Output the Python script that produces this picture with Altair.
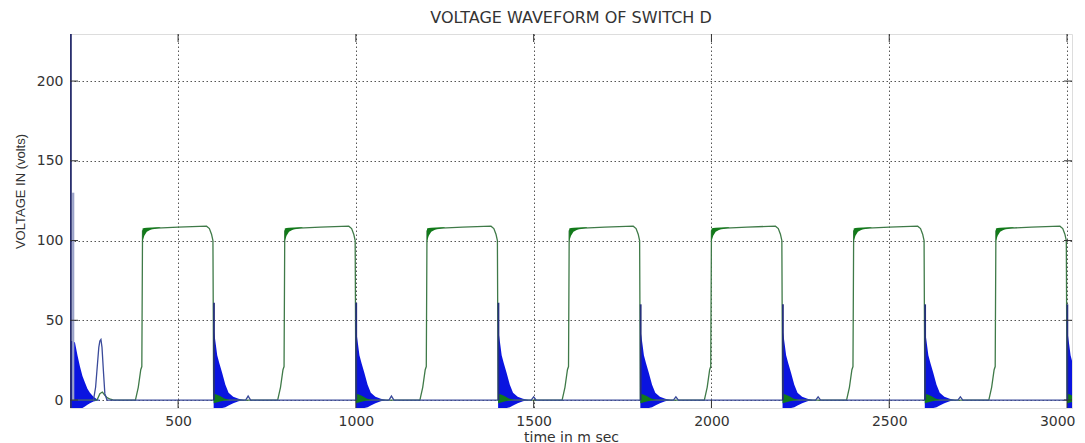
import altair as alt
import pandas as pd

TITLE = "VOLTAGE WAVEFORM OF SWITCH D"
X_TITLE = "time in m sec"
Y_TITLE = "VOLTAGE IN (volts)"

# axis ticks / limits
x_ticks = [500, 1000, 1500, 2000, 2500, 3000]
y_ticks = [0, 50, 100, 150, 200]
x_domain = [196, 3014]
y_domain = [-5, 229.5]

# switching events
rise_times = [380, 780, 1180, 1580, 1980, 2380, 2780]
fall_times = [600, 1000, 1400, 1800, 2200, 2600, 3000]
spike_peaks = [61, 61, 61, 60, 60, 60, 60]

# green (switch voltage) one-period shape, offsets from rise time
g_off = [0, 8, 15, 18, 20, 30, 60, 120, 180, 200, 208, 214, 218, 220]
g_val = [0, 8, 19, 21, 106, 107, 107.8, 108.4, 108.9, 109, 107.5, 104, 100, 0]

# green start bump
gs_t = [196, 272, 280, 287, 294, 300, 310, 318]
gs_v = [0, 0, 4, 5, 3, 1.5, 0.5, 0]

# green oscillation wedge at plateau start (offset from rise)
gw_off = [20, 25, 32, 45, 70]
gw_up = [107.5, 107.8, 108, 108.2, 108.3]
gw_low = [99.5, 103, 105.5, 107, 108]

# green ripple at bottom of each spike (offset from fall)
gb_off = [0, 8, 18, 30, 45]
gb_up = [4, 3.5, 2.5, 1, 0]
gb_low = [-2, -1.5, -1, -0.3, 0]

# blue decaying ringing envelope (offset from fall)
sp_off = [0, 3, 6, 10, 16, 24, 33, 42, 55, 70, 85]
sp_up = [44, 40, 35, 28, 23, 17, 9.5, 4.5, 2, 0.8, 0]
sp_low = [-5, -5, -5, -5, -5, -5, -4.5, -3.5, -2, -0.8, 0]

# blue start transient
st_t = [198, 203, 210, 217, 224, 231, 238, 245, 252, 262, 272, 282]
st_up = [37, 37, 36, 28, 21, 15, 11, 7, 4.5, 2, 0.5, 0]
st_low = [-5, -5, -5, -5, -5, -5, -4, -3, -2, -1, -0.5, 0]

# blue baseline with start bump and small blips
bl_t = [196, 262, 268, 273, 277, 280, 283, 286, 290, 294, 300,
        690, 697, 704, 1093, 1100, 1107, 1493, 1500, 1507,
        1893, 1900, 1907, 2293, 2300, 2307, 2693, 2700, 2707, 3014]
bl_v = [0, 0, 8, 22, 33, 37, 38, 33, 18, 4, 0,
        0, 2.5, 0, 0, 2.5, 0, 0, 2, 0,
        0, 2, 0, 0, 2, 0, 0, 2, 0, 0]

# start spikes (beyond the top and to 130)
start_rule_t = [198, 205]
start_rule_top = [240, 130]

# ---------- tables ----------
green_rows = [{"t": t, "v": v} for t, v in zip(gs_t, gs_v)]
for r in rise_times:
    for d, v in zip(g_off, g_val):
        green_rows.append({"t": r + d, "v": v})
green_rows.append({"t": 3014, "v": 0})
green_df = pd.DataFrame(green_rows)

gw_rows = []
for r in rise_times:
    for d, u, l in zip(gw_off, gw_up, gw_low):
        gw_rows.append({"t": r + d, "u": u, "l": l, "g": r})
for s in fall_times:
    for d, u, l in zip(gb_off, gb_up, gb_low):
        gw_rows.append({"t": s + d, "u": u, "l": l, "g": s + 0.5})
gw_df = pd.DataFrame(gw_rows)

sp_rows = [{"t": t, "u": u, "l": l, "g": 0} for t, u, l in zip(st_t, st_up, st_low)]
for s in fall_times:
    for d, u, l in zip(sp_off, sp_up, sp_low):
        sp_rows.append({"t": s + d, "u": u, "l": l, "g": s})
sp_df = pd.DataFrame(sp_rows)

spike_rule_df = pd.DataFrame({"t": [s + 1 for s in fall_times], "y0": [0] * len(fall_times), "y1": spike_peaks})
start_rule_df = pd.DataFrame({"t": start_rule_t, "y0": [-5, 0], "y1": start_rule_top, "c": ["a", "b"]})
base_df = pd.DataFrame({"t": bl_t, "v": bl_v})
xt_df = pd.DataFrame({"t": x_ticks})
yt_df = pd.DataFrame({"v": y_ticks})

W, H = 1002, 374
FONT = "DejaVu Sans"
xs = alt.Scale(domain=x_domain, nice=False, zero=False)
ys = alt.Scale(domain=y_domain, nice=False, zero=False)

x_axis = alt.Axis(values=x_ticks, grid=True, ticks=False, domain=False,
                  labelFont=FONT, labelFontSize=14, labelColor="#333",
                  labelPadding=6, labelFlush=8, labelFlushOffset=8,
                  title=X_TITLE, titleFont=FONT, titleFontSize=14,
                  titleFontWeight="normal", titleColor="#333", titlePadding=2,
                  gridColor="#555", gridDash=[1.5, 2.5], gridWidth=1, format="d")
y_axis = alt.Axis(values=y_ticks, grid=True, ticks=False, domain=False,
                  labelFont=FONT, labelFontSize=14, labelColor="#333",
                  labelPadding=7, title=Y_TITLE, titleFont="Liberation Sans",
                  titleFontSize=13, titleFontWeight="normal", titleColor="#333",
                  titleAngle=270, titleBaseline="middle", titleAlign="center",
                  titleX=-50, titleY=157,
                  gridColor="#555", gridDash=[1.5, 2.5], gridWidth=1, format="d")

blue_area = alt.Chart(sp_df).mark_area(color="#0a14e0", clip=True, interpolate="linear").encode(
    x=alt.X("t:Q", scale=xs, axis=x_axis),
    y=alt.Y("u:Q", scale=ys, axis=y_axis),
    y2="l:Q",
    detail="g:N",
)

green_line = alt.Chart(green_df).mark_line(color="#3f7a48", strokeWidth=1.3, clip=True).encode(
    x=alt.X("t:Q", scale=xs), y=alt.Y("v:Q", scale=ys), order="t:Q"
)

base_line = alt.Chart(base_df).mark_line(color="#3a4a9a", strokeWidth=1.3, clip=True).encode(
    x=alt.X("t:Q", scale=xs), y=alt.Y("v:Q", scale=ys), order="t:Q"
)

green_wedge = alt.Chart(gw_df).mark_area(color="#127a1a", clip=True).encode(
    x=alt.X("t:Q", scale=xs), y=alt.Y("u:Q", scale=ys), y2="l:Q", detail="g:N"
)

spike_rule = alt.Chart(spike_rule_df).mark_rule(color="#26307a", strokeWidth=1.8, clip=True).encode(
    x=alt.X("t:Q", scale=xs), y=alt.Y("y0:Q", scale=ys), y2="y1:Q"
)

start_rule = alt.Chart(start_rule_df).mark_rule(clip=True, strokeWidth=2.2).encode(
    x=alt.X("t:Q", scale=xs), y=alt.Y("y0:Q", scale=ys), y2="y1:Q",
    color=alt.Color("c:N", scale=alt.Scale(domain=["a", "b"], range=["#2a2f6e", "#9aa2c8"]), legend=None),
)

TL = 8
xt_bottom = alt.Chart(xt_df).mark_rule(color="#333", strokeWidth=1).encode(
    x=alt.X("t:Q", scale=xs), y=alt.value(H), y2=alt.value(H - TL))
xt_top = alt.Chart(xt_df).mark_rule(color="#333", strokeWidth=1).encode(
    x=alt.X("t:Q", scale=xs), y=alt.value(0), y2=alt.value(TL))
yt_left = alt.Chart(yt_df).mark_rule(color="#333", strokeWidth=1).encode(
    y=alt.Y("v:Q", scale=ys), x=alt.value(0), x2=alt.value(TL))
yt_right = alt.Chart(yt_df).mark_rule(color="#333", strokeWidth=1).encode(
    y=alt.Y("v:Q", scale=ys), x=alt.value(W), x2=alt.value(W - TL))

chart = alt.layer(
    blue_area, green_line, base_line, green_wedge, spike_rule, start_rule,
    xt_bottom, xt_top, yt_left, yt_right,
).properties(
    width=W, height=H,
    title=alt.TitleParams(text=TITLE, font=FONT, fontSize=16, fontWeight="normal",
                          color="#333", anchor="middle", offset=8),
    autosize=alt.AutoSizeParams(type="none"),
    padding={"left": 62, "top": 26, "right": 5, "bottom": 36},
).configure_view(stroke="#333", strokeWidth=1.3).configure(background="white")

chart.save("out.html", embed_options={"renderer": "svg", "actions": False})
